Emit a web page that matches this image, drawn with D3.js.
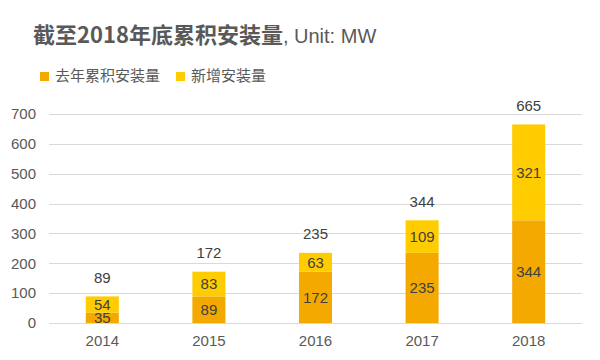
<!DOCTYPE html>
<html><head><meta charset="utf-8">
<script src="https://cdn.jsdelivr.net/npm/d3@7"></script>
<style>body{margin:0;background:#fff}svg{display:block}text{font-family:"Liberation Sans",Arial,"Noto Sans CJK SC",sans-serif}</style>
</head><body>
<svg id="c" width="600" height="360"></svg>
<script>
const categories = ["2014","2015","2016","2017","2018"];
const prevCumulative = [35, 89, 172, 235, 344];
const newInstalled = [54, 83, 63, 109, 321];
const totals = [89, 172, 235, 344, 665];
const yTicks = [0,100,200,300,400,500,600,700];
const seriesNames = ["去年累积安装量","新增安装量"];
const colors = ["#F4A900","#FFCC00"];

const svg = d3.select("#c");
const m = {l:49, r:18, t:114, b:37};
const W = 600, H = 360;
const x = d3.scaleBand().domain(categories).range([m.l, W-m.r]).paddingInner(0.69).paddingOuter(0.345);
const y = d3.scaleLinear().domain([0,700]).range([H-m.b, m.t]);

// gridlines
svg.append("g").selectAll("line").data(yTicks).join("line")
  .attr("x1", m.l).attr("x2", W-m.r)
  .attr("y1", d=>Math.round(y(d))+0.5).attr("y2", d=>Math.round(y(d))+0.5)
  .attr("stroke", "#d9d9d9").attr("stroke-width", 1);

// y axis labels
const yAxis = d3.axisLeft(y).tickValues(yTicks).tickSize(0).tickPadding(13);
svg.append("g").attr("transform", `translate(${m.l},0)`).call(yAxis)
  .call(g=>g.select(".domain").remove())
  .call(g=>g.selectAll("text").attr("fill","#595959").attr("font-size",15).attr("font-family","Liberation Sans, Arial, sans-serif"));

// x axis labels
const xAxis = d3.axisBottom(x).tickSize(0).tickPadding(12);
svg.append("g").attr("transform", `translate(0,${H-m.b})`).call(xAxis)
  .call(g=>g.select(".domain").remove())
  .call(g=>g.selectAll("text").attr("fill","#595959").attr("font-size",15).attr("font-family","Liberation Sans, Arial, sans-serif"));

const data = categories.map((c,i)=>({c, a:prevCumulative[i], b:newInstalled[i], t:totals[i]}));
const stack = d3.stack().keys(["a","b"])(data);

stack.forEach((s,si)=>{
  svg.append("g").selectAll("rect").data(s).join("rect")
    .attr("x", d=>x(d.data.c)).attr("width", x.bandwidth())
    .attr("y", d=>y(d[1])).attr("height", d=>y(d[0])-y(d[1]))
    .attr("fill", colors[si]);
  svg.append("g").selectAll("text").data(s).join("text")
    .attr("x", d=>x(d.data.c)+x.bandwidth()/2)
    .attr("y", d=>(y(d[0])+y(d[1]))/2)
    .attr("dy","0.36em").attr("text-anchor","middle")
    .attr("font-size",15).attr("fill","#404040")
    .text(d=>d[1]-d[0]);
});

// totals
svg.append("g").selectAll("text").data(data).join("text")
  .attr("x", d=>x(d.c)+x.bandwidth()/2)
  .attr("y", d=>y(d.t)-19).attr("dy","0.36em")
  .attr("text-anchor","middle").attr("font-size",15).attr("fill","#404040")
  .text(d=>d.t);

// title
const title = svg.append("text").attr("x",33).attr("y",43).attr("fill","#595959");
title.append("tspan").attr("font-size",22).attr("font-weight","bold").attr("font-family","Noto Sans CJK SC, Liberation Sans, sans-serif").text("截至2018年底累积安装量");
title.append("tspan").attr("font-size",20).text(", Unit: MW");

// legend
const lx = [40, 176];
seriesNames.forEach((n,i)=>{
  svg.append("rect").attr("x",lx[i]).attr("y",72).attr("width",9).attr("height",9).attr("fill",colors[i]);
  svg.append("text").attr("x",lx[i]+15).attr("y",81).attr("font-size",15).attr("fill","#595959")
    .attr("font-family","Noto Sans CJK SC, sans-serif").text(n);
});
</script>
</body></html>
